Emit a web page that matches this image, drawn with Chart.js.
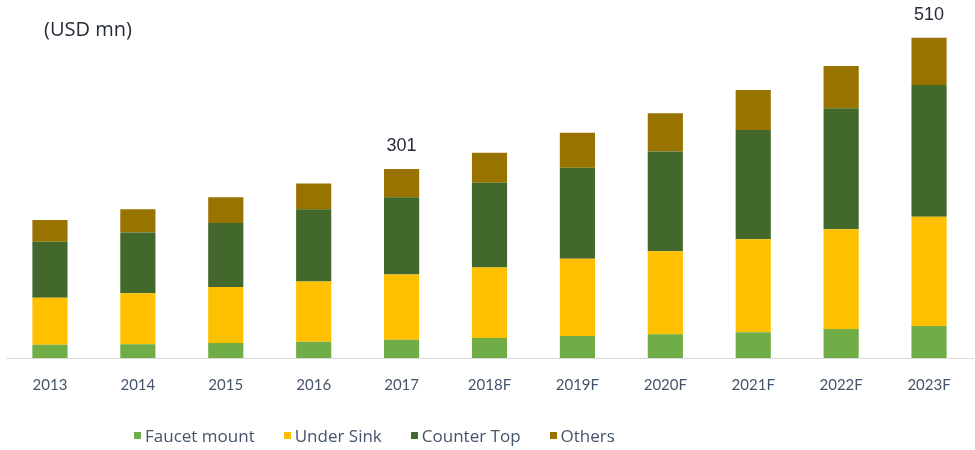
<!DOCTYPE html>
<html>
<head>
<meta charset="utf-8">
<script src="https://cdn.jsdelivr.net/npm/chart.js@4"></script>
<style>
  html, body { margin: 0; padding: 0; background: #fff; }
  #wrap { position: relative; width: 975px; height: 450px; }
  #legend { position: absolute; left: 134px; top: 424px; display: flex; font: 17px "Open Sans", sans-serif; color: #44546a; white-space: nowrap; }
  #legend span.item { display: flex; align-items: center; margin-right: 29px; }
  #legend span.box { width: 7px; height: 7px; margin-right: 4px; display: inline-block; }
</style>
</head>
<body>
<div id="wrap">
  <canvas id="chart" width="975" height="450"></canvas>
  <div id="legend"></div>
</div>
<script>
const years = ['2013', '2014', '2015', '2016', '2017', '2018F', '2019F', '2020F', '2021F', '2022F', '2023F'];
const faucetMount = [21, 22, 24, 26, 29, 32, 35, 38, 41, 46, 51];
const underSink   = [75, 81, 89, 96, 104, 112, 123, 132, 148, 159, 174];
const counterTop  = [89, 97, 102, 115, 123, 135, 145, 159, 174, 193, 210];
const others      = [35, 37, 41, 41, 45, 48, 56, 61, 64, 67, 75];
// only these totals get a label above the bar
const totalLabels = [null, null, null, null, 301, null, null, null, null, null, 510];

const series = [
  { label: 'Faucet mount', data: faucetMount, color: '#70ad47' },
  { label: 'Under Sink', data: underSink, color: '#ffc000' },
  { label: 'Counter Top', data: counterTop, color: '#43682b' },
  { label: 'Others', data: others, color: '#997300' },
];

const extraText = {
  id: 'extraText',
  afterDatasetsDraw(chart) {
    const { ctx, scales: { x, y } } = chart;
    ctx.save();
    ctx.fillStyle = '#262b3a';
    ctx.font = '18px "Liberation Sans", Arial, sans-serif';
    ctx.textAlign = 'center';
    ctx.textBaseline = 'bottom';
    totalLabels.forEach((t, i) => {
      if (t == null) return;
      ctx.fillText(String(t), x.getPixelForValue(i), y.getPixelForValue(t) - 14);
    });
    ctx.font = '20px "Open Sans", sans-serif';
    ctx.textAlign = 'left';
    ctx.textBaseline = 'middle';
    ctx.fillText('(USD mn)', 44, 30);
    ctx.restore();
  }
};

new Chart(document.getElementById('chart'), {
  type: 'bar',
  data: {
    labels: years,
    datasets: series.map(s => ({ label: s.label, data: s.data, backgroundColor: s.color, borderWidth: 0 }))
  },
  options: {
    responsive: false,
    animation: false,
    layout: { padding: { top: 19, left: 6, right: 2, bottom: 46 } },
    datasets: { bar: { barPercentage: 0.8, categoryPercentage: 0.5 } },
    plugins: { legend: { display: false }, tooltip: { enabled: false } },
    scales: {
      x: {
        stacked: true,
        grid: { display: false },
        border: { color: '#d9d9d9', width: 1 },
        ticks: { color: '#44546a', font: { family: 'Lato', size: 15 }, padding: 10 }
      },
      y: { stacked: true, display: false, min: 0, max: 540 }
    }
  },
  plugins: [extraText]
});

const legend = document.getElementById('legend');
series.forEach(s => {
  const item = document.createElement('span');
  item.className = 'item';
  const box = document.createElement('span');
  box.className = 'box';
  box.style.background = s.color;
  item.appendChild(box);
  item.appendChild(document.createTextNode(s.label));
  legend.appendChild(item);
});
</script>
</body>
</html>
